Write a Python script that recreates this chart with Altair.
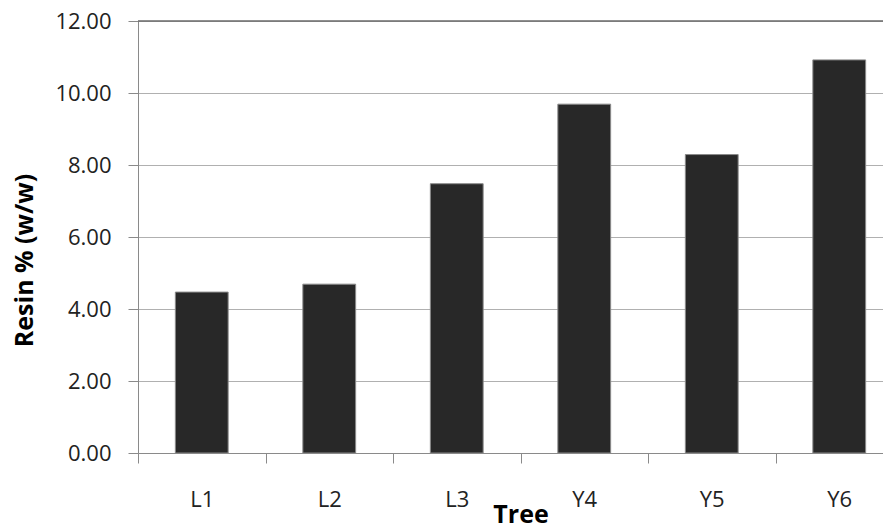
import altair as alt
import pandas as pd

trees = ["L1", "L2", "L3", "Y4", "Y5", "Y6"]
resin = [4.47, 4.69, 7.48, 9.69, 8.29, 10.92]
y_ticks = [0, 2, 4, 6, 8, 10, 12]

df = pd.DataFrame({"Tree": trees, "Resin": resin})

FONT = "Open Sans"
STEP = 127.5

bars = alt.Chart(df).mark_bar(
    color="#282828", stroke="#8a8a8a", strokeWidth=1
).encode(
    x=alt.X(
        "Tree:N",
        sort=trees,
        scale=alt.Scale(range=[0, 765], paddingInner=0.586, paddingOuter=0.293),
        axis=alt.Axis(
            title="Tree",
            titleFont=FONT, titleFontSize=25, titleFontWeight="bold", titleColor="#000000",
            titleX=382.5, titleY=69, titleBaseline="alphabetic", titleAlign="center",
            labelFont=FONT, labelFontSize=22, labelColor="#222222", labelAngle=0,
            labelPadding=26, labelOffset=STEP / 2,
            bandPosition=0.5, tickOffset=-STEP / 2,
            ticks=True, tickSize=10, tickColor="#8a8a8a",
            domainColor="#8a8a8a", grid=False,
        ),
    ),
    y=alt.Y(
        "Resin:Q",
        scale=alt.Scale(domain=[0, 12], nice=False),
        axis=alt.Axis(
            title="Resin % (w/w)",
            titleFont=FONT, titleFontSize=25, titleFontWeight="bold", titleColor="#000000",
            titleAngle=270, titleX=-114, titleY=239, titleAlign="center", titleBaseline="middle",
            values=y_ticks, format=".2f",
            labelFont=FONT, labelFontSize=22, labelColor="#222222", labelPadding=17,
            tickSize=10, tickColor="#8a8a8a", domainColor="#8a8a8a",
            grid=True, gridColor="#b0b0b0", gridWidth=1.2,
        ),
    ),
)

top_line = alt.Chart(pd.DataFrame({"v": [y_ticks[-1]]})).mark_rule(
    color="#6a6a6a", strokeWidth=1.5
).encode(y=alt.Y("v:Q", scale=alt.Scale(domain=[0, 12], nice=False)))

chart = alt.layer(top_line, bars).properties(
    width=745,
    height=432,
    autosize=alt.AutoSizeParams(type="none"),
    padding={"left": 130, "top": 13, "right": 0, "bottom": 70},
).configure_view(stroke=None)

chart.save("out.html", embed_options={"renderer": "svg", "actions": False})
